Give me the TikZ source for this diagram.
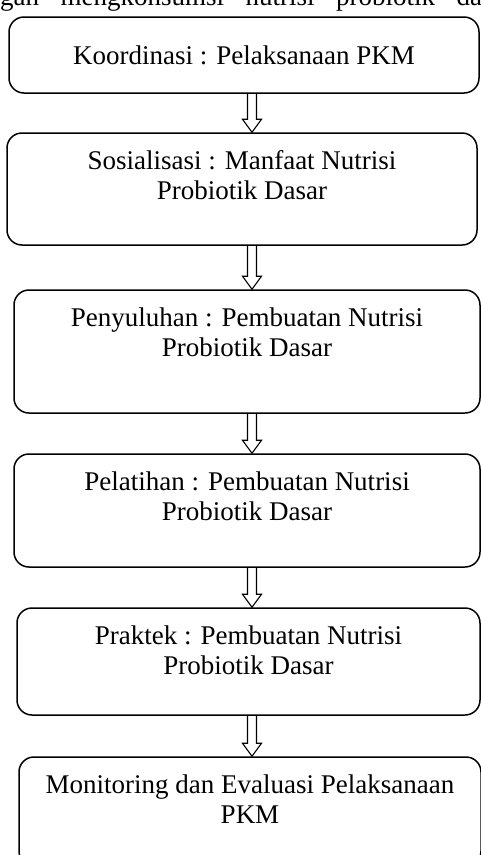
\documentclass[tikz,border=0pt]{standalone}
\usepackage{fontspec}
\setmainfont{Liberation Serif}
\usetikzlibrary{calc}
\begin{document}
\begin{tikzpicture}[x=1pt,y=1pt,
  box/.style={draw, line width=1.5pt, rounded corners=15pt, inner sep=0pt},
  txt/.style={font=\fontsize{27}{30}\selectfont, align=center, inner sep=0pt},
  flow/.style={draw, line width=1.1pt, line join=miter}]
\useasboundingbox (0,0) rectangle (481,-855);
\node[anchor=base west, inner sep=0pt, font=\fontsize{27}{30}\selectfont] (cap) at (0,-5.5) {\spaceskip=21.5pt\relax gan mengkonsumsi nutrisi probiotik dasar};
\node[box, minimum width=470pt, minimum height=76pt] (b1) at (244,-55) {};
\node[box, minimum width=470pt, minimum height=112pt] (b2) at (242,-189) {};
\node[box, minimum width=466pt, minimum height=123pt] (b3) at (247,-351.5) {};
\node[box, minimum width=466pt, minimum height=113pt] (b4) at (247,-510.5) {};
\node[box, minimum width=463pt, minimum height=107pt] (b5) at (248.5,-661.5) {};
\node[box, minimum width=462pt, minimum height=109pt] (b6) at (250,-811.5) {};
\node[txt] (t1) at (b1.center) {Koordinasi : Pelaksanaan PKM};
\node[txt, anchor=north] (t2) at ($(b2.north)+(0,-18.5)$) {Sosialisasi : Manfaat Nutrisi\\Probiotik Dasar};
\node[txt, anchor=north] (t3) at ($(b3.north)+(0,-18.5)$) {Penyuluhan : Pembuatan Nutrisi\\Probiotik Dasar};
\node[txt, anchor=north] (t4) at ($(b4.north)+(0,-18.5)$) {Pelatihan : Pembuatan Nutrisi\\Probiotik Dasar};
\node[txt, anchor=north] (t5) at ($(b5.north)+(0,-18.5)$) {Praktek : Pembuatan Nutrisi\\Probiotik Dasar};
\node[txt, anchor=north] (t6) at ($(b6.north)+(0,-18.5)$) {Monitoring dan Evaluasi Pelaksanaan\\PKM};
\coordinate (ax) at (252,0);
\foreach \a/\b in {b1/b2,b2/b3,b3/b4,b4/b5,b5/b6}{
  \draw[flow] let \p1=(\a.south -| ax), \p2=(\b.north -| ax) in
    (\x1-4.5pt,\y1) -- (\x1-4.5pt,\y2+13pt) -- (\x1-9.5pt,\y2+13pt) -- (\x1,\y2)
    -- (\x1+9.5pt,\y2+13pt) -- (\x1+4.5pt,\y2+13pt) -- (\x1+4.5pt,\y1);
}
\end{tikzpicture}
\end{document}
